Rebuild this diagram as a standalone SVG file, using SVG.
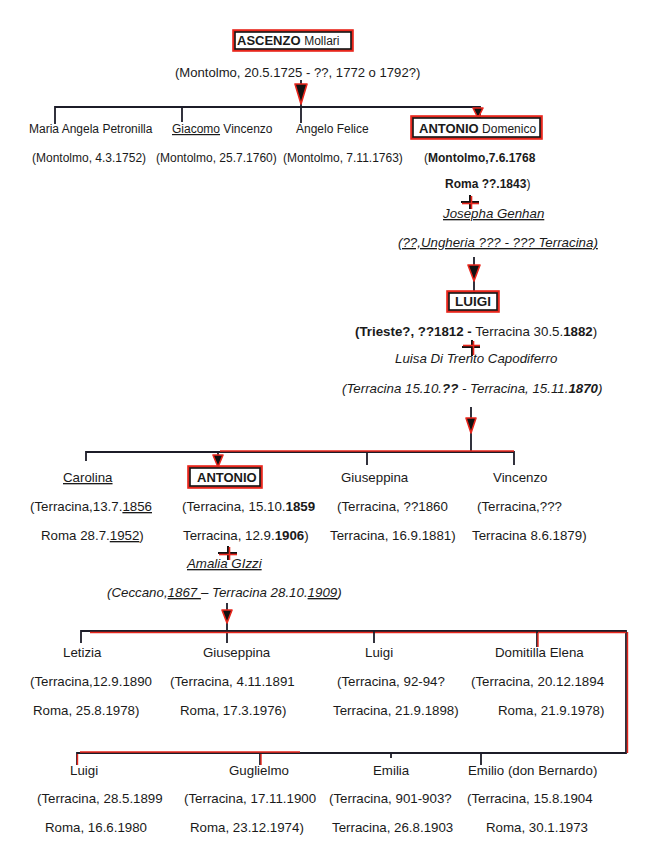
<svg xmlns="http://www.w3.org/2000/svg" width="666" height="866" viewBox="0 0 666 866">
<style>
text{font-family:"Liberation Sans",Arial,sans-serif;font-size:12px;fill:#1a1a1a}
.L text,text.L{font-size:13.3px}
.b{font-weight:bold}
.i{font-style:italic}
.u{text-decoration:underline}
.bx{fill:#fff;stroke:#111;stroke-width:1.6}
.bxr{fill:none;stroke:#e8261c;stroke-width:2.6}
.ln{fill:none;stroke:#1c1c28;stroke-width:1.8}
.rl{fill:none;stroke:#e8261c;stroke-width:1.4}
.ah{fill:#111;stroke:#e8261c;stroke-width:1.6;stroke-linejoin:round}
.cr{stroke:#111;stroke-width:2}
.crr{stroke:#e8261c;stroke-width:1.6}
</style>
<rect width="666" height="866" fill="#fff"/>
<g id="connectors">
  <line class="ln" x1="301" y1="80" x2="301" y2="123"/>
  <polyline class="ln" points="55,124 55,107 480,107 480,118"/>
  <line class="ln" x1="182" y1="107" x2="182" y2="122"/>
  <polygon class="ah" points="295,84 307,84 301,104"/>
  <polygon class="ah" points="473,108 483,108 478,118"/>
  <line class="ln" x1="474" y1="257" x2="474" y2="293"/>
  <polygon class="ah" points="468,265 480,265 474,281"/>
  <line class="ln" x1="471" y1="407" x2="471" y2="452"/>
  <polyline class="ln" points="86,461 86,452 514,452 514,465"/>
  <line class="rl" x1="220" y1="451" x2="514" y2="451"/>
  <line class="ln" x1="367" y1="452" x2="367" y2="465"/>
  <line class="ln" x1="218" y1="452" x2="218" y2="467"/>
  <polygon class="ah" points="466,418 476,418 471,433"/>
  <polygon class="ah" points="213,455 223,455 218,467"/>
  <line class="ln" x1="227" y1="603" x2="227" y2="643"/>
  <polygon class="ah" points="222,610 232,610 227,623"/>
  <polyline class="ln" points="81,643 81,631 626,631 626,753 77,753 77,765"/>
  <line class="rl" x1="90" y1="632.5" x2="626" y2="632.5"/>
  <line class="rl" x1="627.5" y1="632" x2="627.5" y2="753"/>
  <line class="rl" x1="80" y1="752" x2="300" y2="752"/>
  <line class="ln" x1="374" y1="631" x2="374" y2="643"/>
  <line class="ln" x1="537" y1="631" x2="537" y2="647"/>
  <line class="rl" x1="538" y1="633" x2="538" y2="647"/>
  <line class="ln" x1="260" y1="753" x2="260" y2="765"/>
  <line class="rl" x1="261" y1="754" x2="261" y2="765"/>
  <line class="ln" x1="391" y1="753" x2="391" y2="758"/>
  <line class="ln" x1="481" y1="753" x2="481" y2="765"/>
  <line class="rl" x1="77.5" y1="754" x2="77.5" y2="765"/>
  <line class="cr" x1="461" y1="202" x2="479" y2="202"/>
  <line class="cr" x1="470" y1="195" x2="470" y2="209"/>
  <line class="crr" x1="462" y1="203.5" x2="479" y2="203.5"/>
  <line class="crr" x1="471.5" y1="196" x2="471.5" y2="209"/>
  <line class="cr" x1="462" y1="347" x2="480" y2="347"/>
  <line class="cr" x1="472" y1="340" x2="472" y2="356"/>
  <line class="crr" x1="463" y1="345.5" x2="480" y2="345.5"/>
  <line class="crr" x1="473.5" y1="341" x2="473.5" y2="355"/>
  <line class="cr" x1="218" y1="553" x2="237" y2="553"/>
  <line class="cr" x1="228" y1="546" x2="228" y2="560"/>
  <line class="crr" x1="219" y1="554.5" x2="237" y2="554.5"/>
  <line class="crr" x1="229.5" y1="547" x2="229.5" y2="560"/>
</g>
<g id="ascenzo">
  <rect class="bxr" x="233.5" y="30.5" width="119" height="20"/>
  <rect class="bx" x="235" y="32" width="116" height="17"/>
  <text x="237" y="45" style="font-size:13px"><tspan class="b">ASCENZO</tspan> <tspan style="font-size:12px">Mollari</tspan></text>
  <text x="175" y="77" style="font-size:13.1px">(Montolmo, 20.5.1725 - ??, 1772 o 1792?)</text>
</g>
<g id="maria-angela">
  <text x="29" y="133">Maria Angela Petronilla</text>
  <text x="32" y="162">(Montolmo, 4.3.1752)</text>
</g>
<g id="giacomo">
  <text x="172" y="133"><tspan class="u">Giacomo</tspan> Vincenzo</text>
  <text x="156" y="162">(Montolmo, 25.7.1760)</text>
</g>
<g id="angelo">
  <text x="296" y="133">Angelo Felice</text>
  <text x="283" y="162">(Montolmo, 7.11.1763)</text>
</g>
<g id="antonio-domenico">
  <rect class="bxr" x="411.5" y="116.5" width="130" height="22"/>
  <rect class="bx" x="413" y="118" width="127" height="19"/>
  <text x="419" y="133"><tspan class="b" style="font-size:13px">ANTONIO</tspan> Domenico</text>
  <text x="424" y="162">(<tspan class="b">Montolmo,7.6.1768</tspan></text>
  <text x="445" y="188"><tspan class="b">Roma ??.1843</tspan>)</text>
</g>
<g id="josepha" class="L">
  <text class="i" x="443" y="218"><tspan class="u">Josepha Genhan</tspan></text>
  <text class="i" x="398" y="247"><tspan class="u">(??,Ungheria ??? - ??? Terracina)</tspan></text>
</g>
<g id="luigi-1812">
  <rect class="bxr" x="447.5" y="291.5" width="51" height="20"/>
  <rect class="bx" x="449" y="293" width="48" height="17"/>
  <text class="b" x="455" y="306" style="font-size:13.5px">LUIGI</text>
  <text class="L" x="355" y="336"><tspan class="b">(Trieste?, ??1812 -</tspan> Terracina 30.5.<tspan class="b">1882</tspan>)</text>
</g>
<g id="luisa" class="L">
  <text class="i" x="395" y="363">Luisa Di Trento Capodiferro</text>
  <text class="i" x="342" y="393">(Terracina 15.10.<tspan class="b">??</tspan>  - Terracina, 15.11.<tspan class="b">1870</tspan>)</text>
</g>
<g id="carolina" class="L">
  <text x="63" y="482"><tspan class="u">Carolina</tspan></text>
  <text x="30" y="511">(Terracina,13.7.<tspan class="u">1856</tspan></text>
  <text x="41" y="540">Roma 28.7.<tspan class="u">1952</tspan>)</text>
</g>
<g id="antonio-1859">
  <rect class="bxr" x="188.5" y="466.5" width="73" height="21"/>
  <rect class="bx" x="190" y="468" width="70" height="18"/>
  <text class="b" x="197" y="482" style="font-size:13px">ANTONIO</text>
  <text class="L" x="182" y="511">(Terracina, 15.10.<tspan class="b">1859</tspan></text>
  <text class="L" x="183" y="540">Terracina, 12.9.<tspan class="b">1906</tspan>)</text>
</g>
<g id="giuseppina-1860" class="L">
  <text x="341" y="482">Giuseppina</text>
  <text x="337" y="511">(Terracina, ??1860</text>
  <text x="330" y="540">Terracina, 16.9.1881)</text>
</g>
<g id="vincenzo" class="L">
  <text x="493" y="482">Vincenzo</text>
  <text x="477" y="511">(Terracina,???</text>
  <text x="472" y="540">Terracina 8.6.1879)</text>
</g>
<g id="amalia" class="L">
  <text class="i" x="187" y="568"><tspan class="u">Amalia  GIzzi</tspan></text>
  <text class="i" x="107" y="597">(Ceccano,<tspan class="u">1867 </tspan>– Terracina 28.10.<tspan class="u">1909</tspan>)</text>
</g>
<g id="letizia" class="L">
  <text x="63" y="657">Letizia</text>
  <text x="30" y="686">(Terracina,12.9.1890</text>
  <text x="33" y="715">Roma, 25.8.1978)</text>
</g>
<g id="giuseppina-1891" class="L">
  <text x="203" y="657">Giuseppina</text>
  <text x="170" y="686">(Terracina, 4.11.1891</text>
  <text x="180" y="715">Roma, 17.3.1976)</text>
</g>
<g id="luigi-1892" class="L">
  <text x="365" y="657">Luigi</text>
  <text x="337" y="686">(Terracina, 92-94?</text>
  <text x="333" y="715">Terracina, 21.9.1898)</text>
</g>
<g id="domitilla" class="L">
  <text x="495" y="657">Domitilla Elena</text>
  <text x="471" y="686">(Terracina, 20.12.1894</text>
  <text x="498" y="715">Roma, 21.9.1978)</text>
</g>
<g id="luigi-1899" class="L">
  <text x="70" y="775">Luigi</text>
  <text x="37" y="803">(Terracina, 28.5.1899</text>
  <text x="45" y="832">Roma, 16.6.1980</text>
</g>
<g id="guglielmo" class="L">
  <text x="229" y="775">Guglielmo</text>
  <text x="184" y="803">(Terracina, 17.11.1900</text>
  <text x="190" y="832">Roma, 23.12.1974)</text>
</g>
<g id="emilia" class="L">
  <text x="373" y="775">Emilia</text>
  <text x="329" y="803">(Terracina, 901-903?</text>
  <text x="332" y="832">Terracina, 26.8.1903</text>
</g>
<g id="emilio" class="L">
  <text x="468" y="775">Emilio (don Bernardo)</text>
  <text x="467" y="803">(Terracina, 15.8.1904</text>
  <text x="486" y="832">Roma, 30.1.1973</text>
</g>
</svg>
